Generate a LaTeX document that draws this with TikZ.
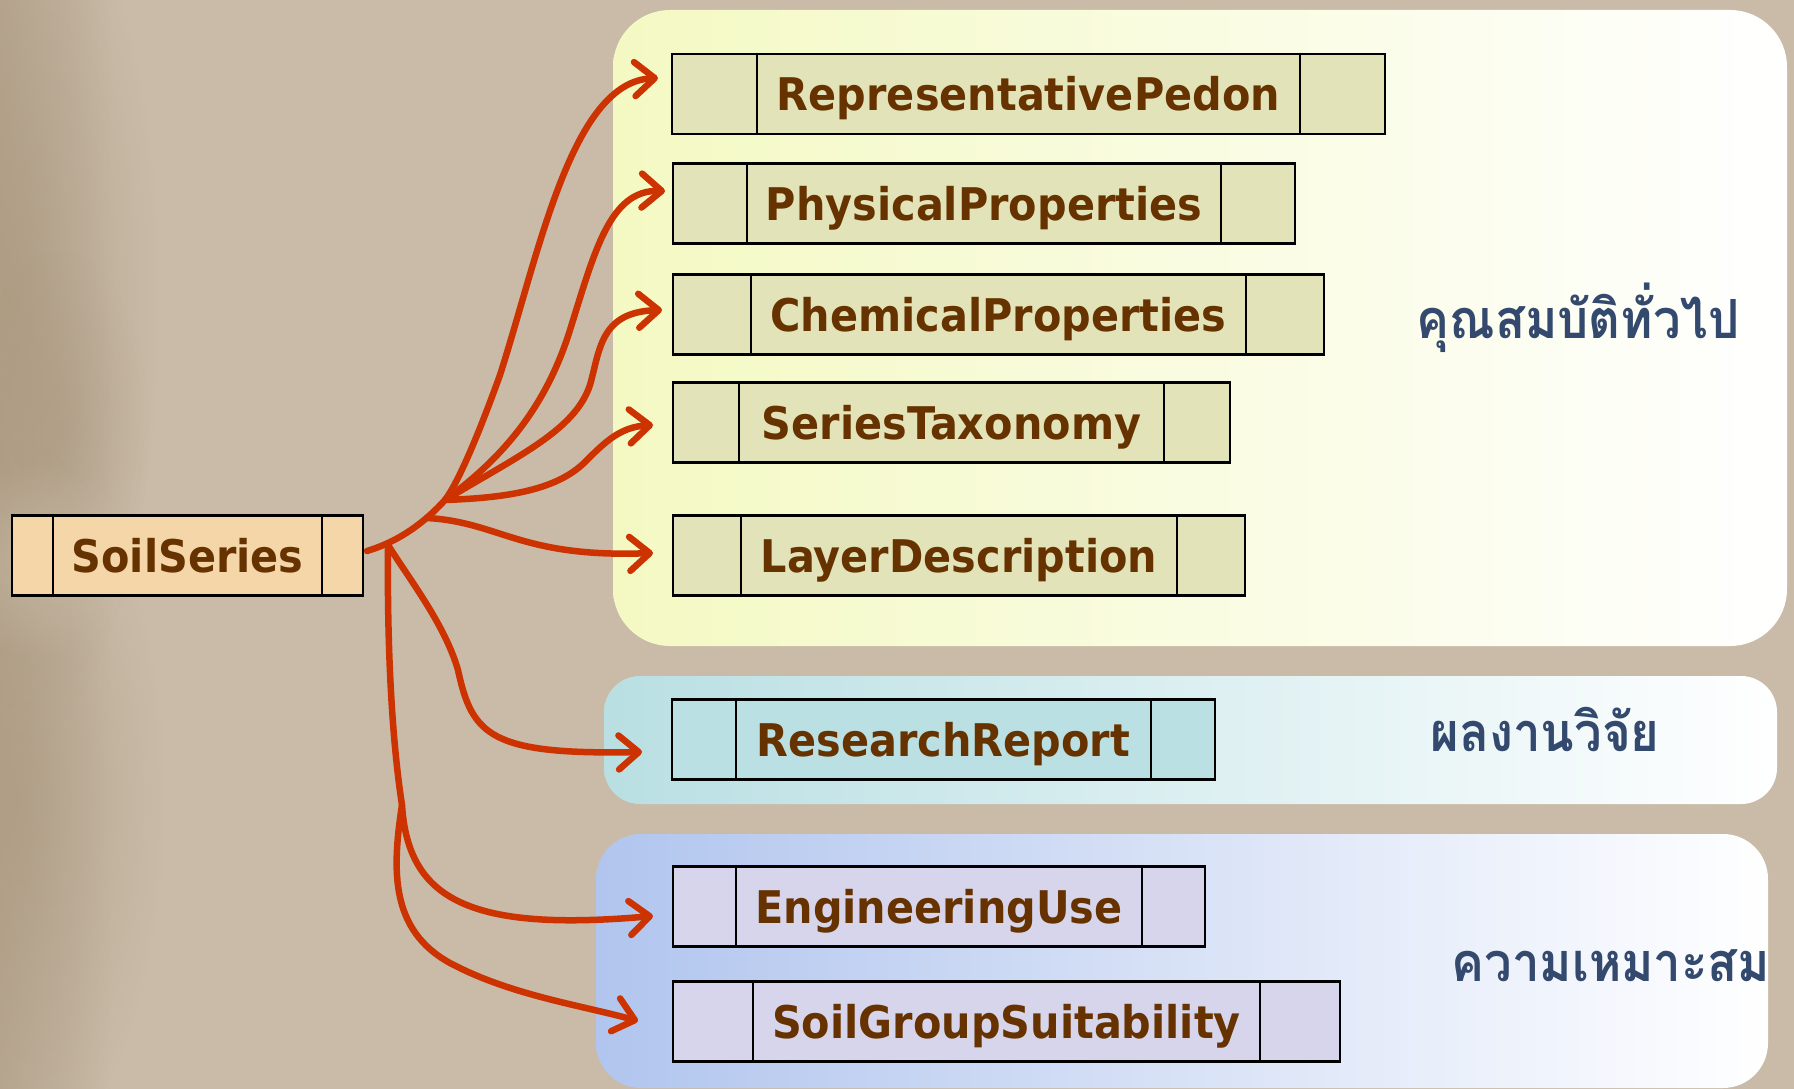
\documentclass[tikz,border=0pt]{standalone}
\usepackage{fontspec}
\setmainfont{DejaVu Sans}
\newfontfamily\boxfont[FakeStretch=0.92]{DejaVu Sans}
\newfontfamily\thaifont[Script=Thai,FakeStretch=0.91]{Loma}
\usetikzlibrary{arrows.meta,fadings}
\definecolor{bg}{HTML}{C9BBA8}
\definecolor{bgdark}{HTML}{A8957B}
\definecolor{bglight}{HTML}{D8CCB8}
\definecolor{py}{HTML}{F4F9C3}
\definecolor{pc}{HTML}{B9DFE3}
\definecolor{pb}{HTML}{B1C5EE}
\definecolor{fy}{HTML}{E3E3B9}
\definecolor{fc}{HTML}{BAE0E3}
\definecolor{fb}{HTML}{D7D5EC}
\definecolor{fs}{HTML}{F5D6A8}
\definecolor{txt}{HTML}{663300}
\definecolor{thaic}{HTML}{34496E}
\definecolor{arr}{HTML}{CC3300}
\tikzfading[name=fadeleft, left color=transparent!0, right color=transparent!100]
\tikzfading[name=softblob, inner color=transparent!0, outer color=transparent!100]
\tikzset{
  cellbox/.style={draw=black, line width=2.5pt, minimum height=80pt, inner sep=0pt,
    text height=33pt, text depth=0pt,
    font=\boxfont\bfseries\fontsize{45}{50}\selectfont, text=txt},
  divline/.style={line width=2pt},
  conn/.style={draw=arr, line width=6.5pt, line cap=round,
    -{Straight Barb[length=20pt, width=34pt, round]}},
  thailabel/.style={anchor=base, text=thaic, font=\thaifont\bfseries\fontsize{54}{60}\selectfont},
  blob/.style={fill=bgdark, path fading=softblob},
}
\newcommand{\cells}[2]{%
  \draw[divline] ([xshift=#2pt]#1.north west) -- ([xshift=#2pt]#1.south west);
  \draw[divline] ([xshift=-#2pt]#1.north east) -- ([xshift=-#2pt]#1.south east);}
\begin{document}
\begin{tikzpicture}[x=1pt,y=-1pt]
\useasboundingbox (0,0) rectangle (1794,1089);
\fill[bg] (0,0) rectangle (1794,1089);
% soft texture on the left edge
\fill[bgdark, opacity=0.5, path fading=fadeleft] (0,0) rectangle (110,1089);
\fill[blob, opacity=0.6] (10,300) ellipse [x radius=150, y radius=450];
\fill[blob, opacity=0.55] (15,800) ellipse [x radius=150, y radius=360];
\fill[blob, opacity=0.4] (60,430) ellipse [x radius=90, y radius=180];
\fill[bglight, opacity=0.5, path fading=softblob] (35,1200) ellipse [x radius=140, y radius=120];
\fill[bglight, opacity=0.4, path fading=softblob] (40,560) ellipse [x radius=100, y radius=100];

% panels
\path[left color=py, right color=white, rounded corners=57pt] (613,10) rectangle (1787,646);
\path[left color=pc, right color=white, rounded corners=36pt] (604,676) rectangle (1777,804);
\path[left color=pb, right color=white, rounded corners=45pt] (596,834) rectangle (1768,1088);

% boxes
\node[cellbox, fill=fs, minimum width=351pt] (ss) at (187.5,555.5) {SoilSeries};
\cells{ss}{42}
\node[cellbox, fill=fy, minimum width=713pt] (rp) at (1028.5,94) {RepresentativePedon};
\cells{rp}{86}
\node[cellbox, fill=fy, minimum width=622pt] (pp) at (984,203.5) {PhysicalProperties};
\cells{pp}{75}
\node[cellbox, fill=fy, minimum width=651pt] (cp) at (998.5,314.5) {ChemicalProperties};
\cells{cp}{79}
\node[cellbox, fill=fy, minimum width=557pt] (st) at (951.5,422.5) {SeriesTaxonomy};
\cells{st}{67}
\node[cellbox, fill=fy, minimum width=572pt] (ld) at (959,555.5) {LayerDescription};
\cells{ld}{69}
\node[cellbox, fill=fc, minimum width=543pt] (rr) at (943.5,739.5) {ResearchReport};
\cells{rr}{65}
\node[cellbox, fill=fb, minimum width=532pt] (eu) at (939,906.5) {EngineeringUse};
\cells{eu}{64}
\node[cellbox, fill=fb, minimum width=667pt] (sg) at (1006.5,1021.5) {SoilGroupSuitability};
\cells{sg}{81}

% Thai labels
\node[thailabel] (t1) at (1578,338) {คุณสมบัติทั่วไป};
\node[thailabel] (t2) at (1545,751) {ผลงานวิจัย};
\node[thailabel] (t3) at (1611,981) {ความเหมาะสม};

% connector coordinates
\coordinate (root) at (367,551);
\coordinate (hub) at (445,500);
\coordinate (hub5) at (427,518);
\coordinate (hub6) at (388,545);
\coordinate (hub8) at (402,805);
\coordinate (tRP) at (658,78);
\coordinate (tPP) at (665,191);
\coordinate (tCP) at (662,310);
\coordinate (tST) at (653,425);
\coordinate (tLD) at (653,553);
\coordinate (tRR) at (642,752);
\coordinate (tEU) at (653,916);
\coordinate (tSG) at (638,1021);

\draw[conn] (root) .. controls (400,541) and (425,522) .. (hub)
  .. controls (460,480) and (482,425) .. (500,375)
  .. controls (540,250) and (572,82) .. (tRP);
\draw[conn] (hub) .. controls (500,460) and (545,410) .. (570,330)
  .. controls (595,250) and (610,190) .. (tPP);
\draw[conn] (hub) .. controls (520,455) and (575,430) .. (590,385)
  .. controls (600,350) and (600,312) .. (tCP);
\draw[conn] (hub) .. controls (500,498) and (555,492) .. (585,462)
  .. controls (605,442) and (620,427) .. (tST);
\draw[conn] (hub5) .. controls (500,522) and (520,558) .. (tLD);
\draw[conn] (hub6) .. controls (410,580) and (445,625) .. (458,670)
  .. controls (472,735) and (490,755) .. (tRR);
\draw[conn] (hub6) .. controls (387,650) and (392,740) .. (hub8)
  .. controls (408,900) and (470,932) .. (tEU);
\draw[conn] (hub8) .. controls (392,870) and (390,930) .. (450,963)
  .. controls (510,995) and (580,1005) .. (tSG);
\end{tikzpicture}
\end{document}
